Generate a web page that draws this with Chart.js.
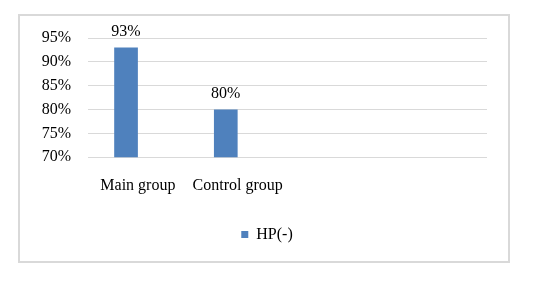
<!DOCTYPE html>
<html>
<head>
<meta charset="utf-8">
<script src="https://cdn.jsdelivr.net/npm/chart.js@4/dist/chart.umd.min.js"></script>
<style>
  html, body { margin: 0; padding: 0; background: #ffffff; }
  #wrap { position: relative; width: 552px; height: 281px; }
</style>
</head>
<body>
<div id="wrap"><canvas id="c" width="552" height="281"></canvas></div>
<script>
const categories = ["Main group", "Control group", "", ""];
const hpNegative = [93, 80, null, null];
const emptySeries = [null, null, null, null];
const yTicks = [70, 75, 80, 85, 90, 95];

const FONT = "'Liberation Serif', 'Times New Roman', serif";
const TEXT = "#000000";
const GRID = "#d9d9d9";
const BAR = "#4f81bd";

const frame = {
  id: 'frame',
  beforeDraw(chart) {
    const ctx = chart.ctx;
    ctx.save();
    ctx.fillStyle = '#ffffff';
    ctx.fillRect(0, 0, chart.width, chart.height);
    ctx.strokeStyle = GRID;
    ctx.lineWidth = 2;
    ctx.strokeRect(19, 15, 490, 247);
    ctx.restore();
  }
};

const valueLabels = {
  id: 'valueLabels',
  afterDatasetsDraw(chart) {
    const ctx = chart.ctx;
    const meta = chart.getDatasetMeta(0);
    ctx.save();
    ctx.font = "16px " + FONT;
    ctx.fillStyle = TEXT;
    ctx.textAlign = 'center';
    ctx.textBaseline = 'alphabetic';
    meta.data.forEach((bar, i) => {
      const v = chart.data.datasets[0].data[i];
      if (v === null || v === undefined) return;
      ctx.fillText(v + '%', bar.x, bar.y - 12);
    });
    ctx.restore();
  }
};

new Chart(document.getElementById('c'), {
  type: 'bar',
  data: {
    labels: categories,
    datasets: [
      { label: 'HP(-)', data: hpNegative, backgroundColor: BAR, borderWidth: 0 },
      { label: '', data: emptySeries, backgroundColor: 'rgba(0,0,0,0)', borderWidth: 0 }
    ]
  },
  options: {
    responsive: false,
    animation: false,
    devicePixelRatio: 1,
    categoryPercentage: 0.475,
    barPercentage: 1,
    layout: { padding: { left: 41, right: 59, top: 38, bottom: 28.4 } },
    scales: {
      x: {
        grid: { display: false, drawTicks: false },
        border: { display: false },
        ticks: { color: TEXT, font: { family: FONT, size: 16 }, padding: 19.4, maxRotation: 0, autoSkip: false },
        afterFit(scale) { scale.height = 59.4; }
      },
      y: {
        min: 70, max: 95,
        afterBuildTicks(scale) { scale.ticks = yTicks.map(v => ({ value: v })); },
        grid: { color: GRID, lineWidth: 1, drawTicks: false },
        border: { display: false },
        ticks: { color: TEXT, font: { family: FONT, size: 16 }, padding: 17, callback: v => v + '%' },
        afterFit(scale) { scale.width = 47; }
      },
      yRight: {
        type: 'linear',
        position: 'right',
        min: 70, max: 95,
        grid: { display: false, drawTicks: false },
        border: { display: false },
        ticks: { display: false },
        afterFit(scale) { scale.width = 6; }
      }
    },
    plugins: {
      legend: {
        position: 'bottom',
        labels: {
          color: TEXT,
          font: { family: FONT, size: 16 },
          boxWidth: 7, boxHeight: 7, padding: 10,
          filter: item => item.text !== ''
        }
      },
      tooltip: { enabled: false }
    }
  },
  plugins: [frame, valueLabels]
});
</script>
</body>
</html>
